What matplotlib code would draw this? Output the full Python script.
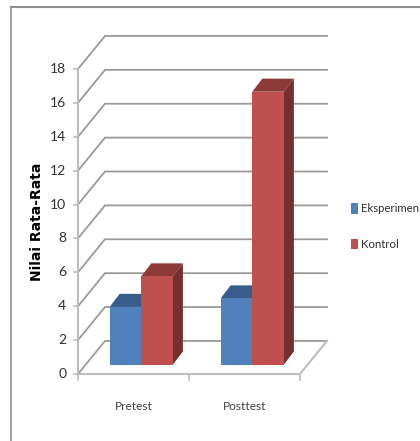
import matplotlib
matplotlib.use("Agg")
import matplotlib.pyplot as plt
from matplotlib.patches import Polygon, Rectangle
from matplotlib.lines import Line2D

categories = ["Pretest", "Posttest"]
series_names = ["Eksperimen", "Kontrol"]
eksperimen = [3.4, 3.9]
kontrol = [5.2, 16.1]
y_ticks = list(range(0, 20, 2))
y_label = "Nilai Rata-Rata"

W, H = 420, 441
TXT = "Lato"

fig = plt.figure(figsize=(W / 100, H / 100), dpi=100, facecolor="white")
ax = fig.add_axes([78 / W, 1 - 374 / H, 222 / W, 305 / H])
ax.set_xlim(0, 2)
ax.set_ylim(0, 18)
ax.axis("off")

# outer frame
fig.add_artist(Line2D([11 / W, 11 / W], [0, 1 - 7 / H], color="#a6a6a6", lw=1.5))
fig.add_artist(Line2D([11 / W, 1], [1 - 7 / H, 1 - 7 / H], color="#8f8f8f", lw=1.5))

# depth of the plot box and of the bars, in data units
DX, DY = 0.243, 1.95
BAR_W = 0.285
BAR_OFF_X, BAR_OFF_Y = 0.07, 0.56
BAR_DX, BAR_DY = 0.09, 0.77
GRID = "#9a9a9a"
AXC = "#bdbdbd"

for v in y_ticks:
    ax.plot([0, DX, 2 + DX], [v, v + DY, v + DY], color=GRID, lw=1.3, clip_on=False,
            solid_joinstyle="miter", zorder=1)
ax.plot([0, 2, 2 + DX], [0, 0, DY], color=AXC, lw=1.5, clip_on=False, zorder=1)
ax.plot([0, 0], [0, 18], color=AXC, lw=1.5, clip_on=False, zorder=1)
for v in y_ticks:
    ax.plot([-0.035, 0], [v, v], color=AXC, lw=1.2, clip_on=False, zorder=1)
for c in range(3):
    ax.plot([c, c], [0, -0.35], color=AXC, lw=1.2, clip_on=False, zorder=1)


def bar3d(x, value, front, top, side, z):
    x0 = x + BAR_OFF_X
    b = BAR_OFF_Y
    ax.add_patch(Polygon([(x0, b + value), (x0 + BAR_W, b + value),
                          (x0 + BAR_W + BAR_DX, b + value + BAR_DY),
                          (x0 + BAR_DX, b + value + BAR_DY)],
                         closed=True, fc=top, ec="none", zorder=z, clip_on=False))
    ax.add_patch(Polygon([(x0 + BAR_W, b), (x0 + BAR_W + BAR_DX, b + BAR_DY),
                          (x0 + BAR_W + BAR_DX, b + value + BAR_DY),
                          (x0 + BAR_W, b + value)],
                         closed=True, fc=side, ec="none", zorder=z, clip_on=False))
    ax.bar(x0, value, width=BAR_W, bottom=b, align="edge", color=front, zorder=z + 0.1,
           clip_on=False)


BLUE = ("#4f81bd", "#385d8a", "#2f4f75")
RED = ("#c0504d", "#8c3a38", "#772f2d")
for i in range(len(categories)):
    center = i + 0.5
    bar3d(center - BAR_W, eksperimen[i], *BLUE, z=3)
    bar3d(center, kontrol[i], *RED, z=4)
    ax.text(center, -1.93, categories[i], ha="center", va="center",
            family=TXT, fontsize=8.6, color="#404040", clip_on=False)

for v in y_ticks:
    ax.text(-0.105, v, str(v), ha="right", va="center", family=TXT, fontsize=10,
            color="#303030", clip_on=False)

fig.text(37 / W, 1 - 222 / H, y_label, rotation=90, ha="center", va="center",
         family="DejaVu Sans", weight="bold", fontsize=10, color="black")

# legend
for name, col, yp in zip(series_names, (BLUE[0], RED[0]), (208.5, 244)):
    fig.add_artist(Rectangle((351 / W, 1 - (yp + 5.2) / H), 6.5 / W, 10.5 / H,
                             transform=fig.transFigure, fc=col, ec="none"))
    fig.text(361 / W, 1 - yp / H, name, ha="left", va="center", family=TXT,
             fontsize=8.2, color="#303030")

fig.savefig("out.png", dpi=100)
